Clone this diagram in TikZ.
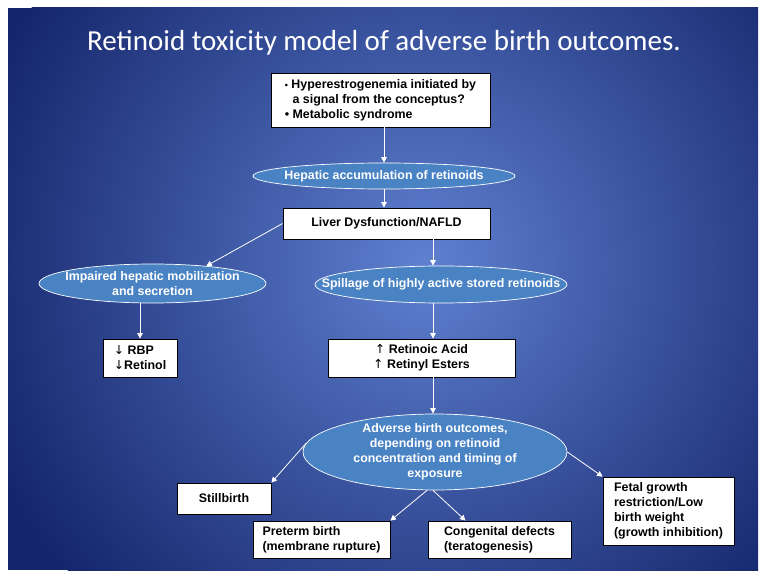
\documentclass[tikz,border=0pt]{standalone}
\usepackage{fontspec}
\setmainfont{Liberation Sans}
\newfontfamily\titlefont{Carlito}
\newfontfamily\arrowfont{DejaVu Sans}
\usetikzlibrary{shapes.geometric,arrows.meta}
\definecolor{navy}{HTML}{15266C}
\definecolor{midblue}{HTML}{5F80D0}
\definecolor{ellfill}{HTML}{4A83C4}
\newcommand{\dnarr}{{\arrowfont\mdseries\char"2193}}
\newcommand{\uparr}{{\arrowfont\mdseries\char"2191}}
\begin{document}
\begin{tikzpicture}[x=1pt,y=-1pt,
  lbl/.style={font=\bfseries\fontsize{12.4}{15}\selectfont},
  box/.style={lbl, draw=black, fill=white, line width=0.8pt, inner sep=0pt, text=black, align=center},
  oval/.style={ellipse, draw=white, fill=ellfill, line width=0.7pt, inner sep=0pt},
  ovaltext/.style={lbl, text=white, align=center, inner sep=0pt},
  arr/.style={draw=white, line width=0.8pt, -{Triangle[length=5.5pt,width=5.5pt]}}]
\useasboundingbox (0,0) rectangle (768,580);
\fill[white] (0,0) rectangle (768,580);
\begin{scope}
  \clip (8,8) rectangle (758,570);
  \fill[navy] (8,8) rectangle (758,570);
  \shade[inner color=midblue, outer color=navy] (425,265) circle (470);
\end{scope}
\node[text=white, font=\titlefont\fontsize{29}{34}\selectfont] (title) at (384,43) {Retinoid toxicity model of adverse birth outcomes.};

\node[box, minimum width=219, minimum height=54, align=left] (top) at (380.5,100)
  {{\fontsize{9}{15}\selectfont\textbullet}~Hyperestrogenemia initiated by\\\hphantom{\textbullet~}a signal from the conceptus?\\\textbullet~Metabolic syndrome};
\node[oval, minimum width=262, minimum height=26] (hep) at (384,176) {};
\node[ovaltext] (hept) at (hep.center) {Hepatic accumulation of retinoids};
\node[box, minimum width=207, minimum height=31] (liver) at (386.5,223.5) {Liver Dysfunction/NAFLD};
\node[oval, minimum width=227, minimum height=39] (imp) at (152.5,283.5) {};
\node[ovaltext] (impt) at (imp.center) {Impaired hepatic mobilization\\and secretion};
\node[oval, minimum width=252, minimum height=37] (spill) at (441,284.5) {};
\node[ovaltext] (spillt) at (spill.center) {Spillage of highly active stored retinoids};
\node[box, minimum width=74, minimum height=38, align=left] (rbp) at (140,358) {\dnarr\ RBP\\\dnarr Retinol};
\node[box, minimum width=187, minimum height=38] (ra) at (421.5,358) {\uparr\ Retinoic Acid\\\uparr\ Retinyl Esters};
\node[oval, minimum width=264, minimum height=76] (adv) at (435,452) {};
\node[ovaltext] (advt) at (adv.center) {Adverse birth outcomes,\\depending on retinoid\\concentration and timing of\\exposure};
\node[box, minimum width=94, minimum height=31] (still) at (224,498.5) {Stillbirth};
\node[box, minimum width=137, minimum height=37, align=left] (pre) at (321.5,539.5) {Preterm birth\\(membrane rupture)};
\node[box, minimum width=143, minimum height=37, align=left] (cong) at (499.5,539.5) {Congenital defects\\(teratogenesis)};
\node[box, minimum width=131, minimum height=68, align=left] (fetal) at (668.5,511) {Fetal growth\\restriction/Low\\birth weight\\(growth inhibition)};

\draw[arr] (hep.north |- top.south) -- (hep.north);
\draw[arr] (hep.south) -- (hep.south |- liver.north);
\draw[arr] (liver.west) -- (imp.18);
\draw[arr] ([xshift=46.5]liver.south) -- ([xshift=46.5]liver.south |- spill.north);
\draw[arr] (rbp.north |- imp.south) -- (rbp.north);
\draw[arr] ([xshift=11.5]ra.north |- spill.south) -- ([xshift=11.5]ra.north);
\draw[arr] ([xshift=11.5]ra.south) -- ([xshift=11.5]ra.south |- adv.north);
\draw[arr] (adv.176) -- (still.north east);
\draw[arr] ([xshift=-8]adv.south) -- (pre.north east);
\draw[arr] ([xshift=-2]adv.south) -- ([xshift=-34]cong.north);
\draw[arr] (adv.east) -- (fetal.north west);
\end{tikzpicture}
\end{document}
